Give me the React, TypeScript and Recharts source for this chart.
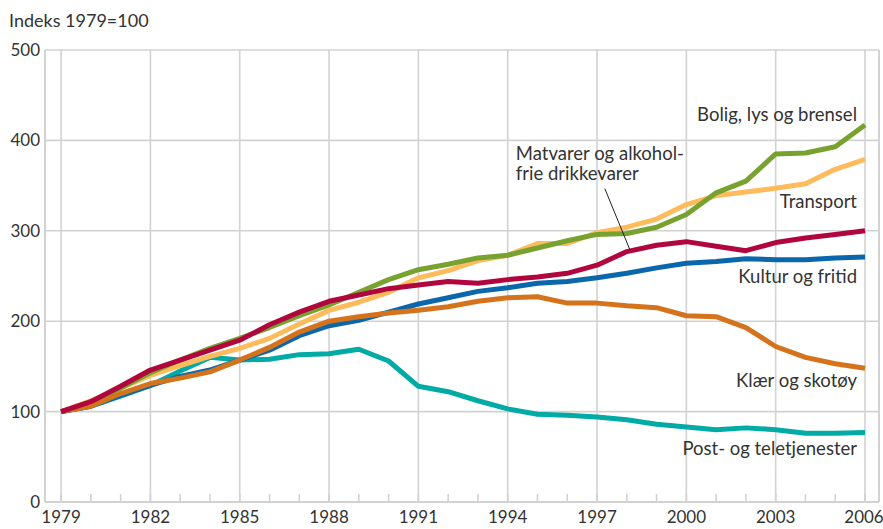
import { LineChart, Line, XAxis, YAxis, CartesianGrid, LabelList, ReferenceLine } from 'recharts';

const years = [
  1979, 1980, 1981, 1982, 1983, 1984, 1985, 1986, 1987, 1988, 1989, 1990, 1991, 1992,
  1993, 1994, 1995, 1996, 1997, 1998, 1999, 2000, 2001, 2002, 2003, 2004, 2005, 2006,
];

const bolig = [100, 109, 126, 143, 157, 170, 181, 193, 206, 218, 232, 246, 257, 263, 270, 273, 281, 289, 296, 297, 304, 318, 342, 355, 385, 386, 393, 417];
const transport = [100, 112, 126, 140, 151, 161, 170, 181, 197, 212, 221, 232, 248, 256, 267, 273, 286, 286, 298, 304, 313, 329, 339, 343, 347, 352, 368, 379];
const matvarer = [100, 111, 128, 146, 157, 168, 179, 196, 210, 222, 229, 236, 240, 244, 242, 246, 249, 253, 262, 277, 284, 288, 283, 278, 287, 292, 296, 300];
const kultur = [100, 106, 118, 129, 139, 146, 157, 168, 184, 195, 201, 210, 219, 226, 233, 237, 242, 244, 248, 253, 259, 264, 266, 269, 268, 268, 270, 271];
const klaer = [100, 106, 120, 131, 137, 144, 157, 171, 188, 200, 205, 209, 212, 216, 222, 226, 227, 220, 220, 217, 215, 206, 205, 193, 172, 160, 153, 148];
const post = [100, 106, 117, 129, 145, 160, 157, 158, 163, 164, 169, 156, 128, 122, 112, 103, 97, 96, 94, 91, 86, 83, 80, 82, 80, 76, 76, 77];

const xTicks = [1979, 1982, 1985, 1988, 1991, 1994, 1997, 2000, 2003, 2006];
const yTicks = [0, 100, 200, 300, 400, 500];

const data = years.map((year, i) => ({
  year,
  bolig: bolig[i],
  transport: transport[i],
  matvarer: matvarer[i],
  kultur: kultur[i],
  klaer: klaer[i],
  post: post[i],
}));

const FONT = 'Lato, sans-serif';
const TEXT = '#333333';
const GRID = '#d2d2d2';

// draw order: first is at the bottom
const SERIES = [
  { key: 'post', name: 'Post- og teletjenester', color: '#00aaa5', at: 27, dx: -8, dy: 23, anchor: 'end' },
  { key: 'transport', name: 'Transport', color: '#fdbb5c', at: 27, dx: -8, dy: 49, anchor: 'end' },
  { key: 'bolig', name: 'Bolig, lys og brensel', color: '#78a22f', at: 27, dx: -8, dy: -4, anchor: 'end' },
  { key: 'kultur', name: 'Kultur og fritid', color: '#0a67ab', at: 27, dx: -8, dy: 26, anchor: 'end' },
  { key: 'klaer', name: 'Klær og skotøy', color: '#d4731c', at: 27, dx: -8, dy: 19, anchor: 'end' },
  { key: 'matvarer', name: 'Matvarer og alkohol-|frie drikkevarer', color: '#b0063d', at: 19, dx: -111, dy: -92, anchor: 'start', leader: true },
];

function SeriesLabel(props: any) {
  const { x, y, index, cfg } = props;
  if (index !== cfg.at) return null;
  const lines = cfg.name.split('|');
  return (
    <g>
      {cfg.leader && (
        <line x1={x - 22} y1={y - 63} x2={x + 3} y2={y - 2} stroke="#222" strokeWidth={1} />
      )}
      {lines.map((t: string, i: number) => (
        <text
          key={i}
          x={x + cfg.dx}
          y={y + cfg.dy + i * 20}
          textAnchor={cfg.anchor}
          fontFamily={FONT}
          fontSize={18.5}
          fill={TEXT}
        >
          {t}
        </text>
      ))}
    </g>
  );
}

function YearTick(props: any) {
  const { x, y, payload } = props;
  const shift = payload.value === 2006 ? -1 : 0;
  return (
    <text x={x + shift} y={y} dy="0.71em" textAnchor="middle" fontFamily={FONT} fontSize={17} fill={TEXT}>
      {payload.value}
    </text>
  );
}

export default function App() {
  return (
    <div style={{ position: 'relative', width: 883, height: 529 }}>
      <style>{'body{margin:0}'}</style>
      <svg style={{ position: 'absolute', left: 0, top: 0 }} width={300} height={40}>
        <text x={9} y={27} fontFamily={FONT} fontSize={18} fill={TEXT}>
          Indeks 1979=100
        </text>
      </svg>
      <LineChart
        width={883}
        height={529}
        data={data}
        margin={{ top: 50, right: 4, bottom: 0, left: 0 }}
        style={{ position: 'absolute', left: 0, top: 0 }}
      >
        <CartesianGrid stroke={GRID} strokeWidth={1.6} />
        <XAxis
          dataKey="year"
          type="number"
          domain={[1978.46, 2006.47]}
          ticks={xTicks}
          height={27}
          tickSize={0}
          tickMargin={9}
          axisLine={{ stroke: GRID, strokeWidth: 2 }}
          tick={<YearTick />}
          interval={0}
          allowDataOverflow
        />
        {/* short yearly ticks pointing up from the x axis */}
        <XAxis
          xAxisId="minor"
          dataKey="year"
          type="number"
          domain={[1978.46, 2006.47]}
          ticks={years}
          interval={0}
          mirror
          tickSize={8}
          tick={() => <g />}
          axisLine={false}
          tickLine={{ stroke: GRID, strokeWidth: 1.6 }}
          allowDataOverflow
        />
        <YAxis
          type="number"
          domain={[0, 500]}
          ticks={yTicks}
          width={45}
          tickSize={0}
          tickMargin={5}
          axisLine={{ stroke: GRID, strokeWidth: 2 }}
          tick={{ fontFamily: FONT, fontSize: 17, fill: TEXT }}
        />
        <ReferenceLine x={2006.47} stroke={GRID} strokeWidth={2} />
        {SERIES.map((s) => (
          <Line
            key={s.key}
            dataKey={s.key}
            name={s.name}
            stroke={s.color}
            strokeWidth={5}
            dot={false}
            strokeLinejoin="round"
            isAnimationActive={false}
          >
            <LabelList dataKey={s.key} content={(p: any) => <SeriesLabel {...p} cfg={s} />} />
          </Line>
        ))}
      </LineChart>
    </div>
  );
}
